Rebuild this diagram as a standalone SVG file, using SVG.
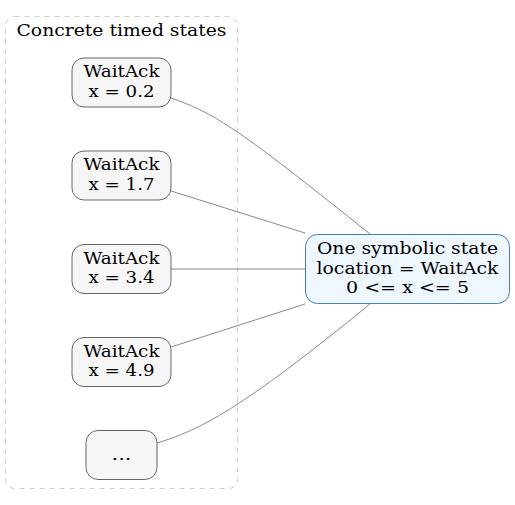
<svg xmlns="http://www.w3.org/2000/svg" width="515" height="505" viewBox="0 0 515 505">
<style>
text{font-family:"DejaVu Serif",serif;font-size:16px;fill:#000;text-anchor:middle}
.st{fill:#f6f6f6;stroke:#666;stroke-width:1}
.sym{fill:#eef6ff;stroke:#4a7ab8;stroke-width:1}
.e{fill:none;stroke:#888;stroke-width:1}
</style>
<rect width="515" height="505" fill="#fff"/>
<g id="cluster">
<rect x="5.5" y="16.5" width="232" height="472" rx="9" fill="none" stroke="#ccc" stroke-dasharray="5,5"/>
<text x="121.5" y="36" textLength="210" lengthAdjust="spacingAndGlyphs">Concrete timed states</text>
</g>
<g id="connectors">
<path class="e" d="M171,98 C215,113 240,130 370,234"/>
<path class="e" d="M171,191 L305,233"/>
<path class="e" d="M171,269 L305,269"/>
<path class="e" d="M171,347 L305,304"/>
<path class="e" d="M157,443 C200,430 240,410 370,304"/>
</g>
<g id="n1"><rect class="st" x="72" y="58" width="99" height="49" rx="12"/><text x="121.5" y="77" textLength="76" lengthAdjust="spacingAndGlyphs">WaitAck</text><text x="121.5" y="96.5" textLength="66" lengthAdjust="spacingAndGlyphs">x = 0.2</text></g>
<g id="n2"><rect class="st" x="72" y="151" width="99" height="49" rx="12"/><text x="121.5" y="170" textLength="76" lengthAdjust="spacingAndGlyphs">WaitAck</text><text x="121.5" y="189.5" textLength="66" lengthAdjust="spacingAndGlyphs">x = 1.7</text></g>
<g id="n3"><rect class="st" x="72" y="244.5" width="99" height="49" rx="12"/><text x="121.5" y="263.5" textLength="76" lengthAdjust="spacingAndGlyphs">WaitAck</text><text x="121.5" y="283" textLength="66" lengthAdjust="spacingAndGlyphs">x = 3.4</text></g>
<g id="n4"><rect class="st" x="72" y="337.5" width="99" height="49" rx="12"/><text x="121.5" y="356.5" textLength="76" lengthAdjust="spacingAndGlyphs">WaitAck</text><text x="121.5" y="376" textLength="66" lengthAdjust="spacingAndGlyphs">x = 4.9</text></g>
<g id="n5"><rect class="st" x="86" y="430.5" width="71" height="49" rx="12"/><text x="121.5" y="460" textLength="20" lengthAdjust="spacingAndGlyphs">...</text></g>
<g id="sym"><rect class="sym" x="305.5" y="234.5" width="204" height="69" rx="12"/><text x="407.5" y="254" textLength="181" lengthAdjust="spacingAndGlyphs">One symbolic state</text><text x="407.5" y="273.5" textLength="182" lengthAdjust="spacingAndGlyphs">location = WaitAck</text><text x="407.5" y="293" textLength="123" lengthAdjust="spacingAndGlyphs">0 &lt;= x &lt;= 5</text></g>
</svg>
